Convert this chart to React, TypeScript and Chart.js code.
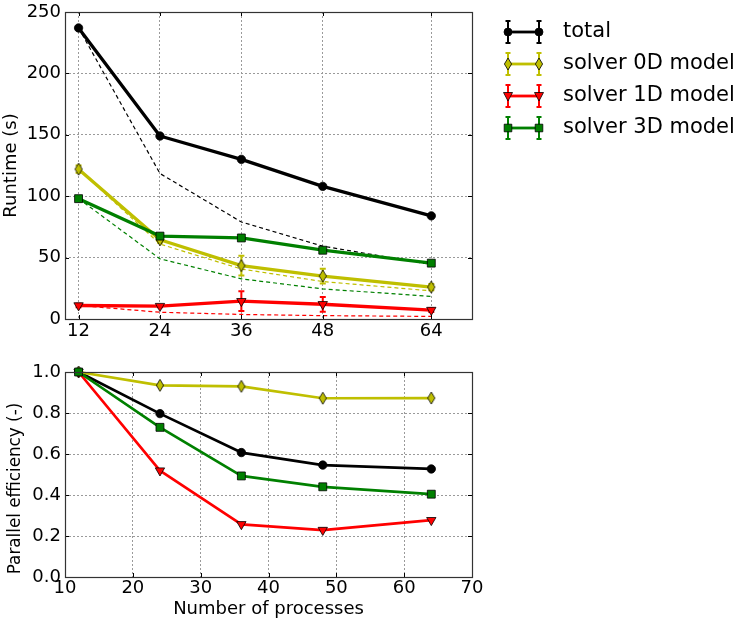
import React, { useEffect, useRef } from 'react';
import { Chart, registerables } from 'chart.js';

Chart.register(...registerables);

const FONT = "'DejaVu Sans', 'Bitstream Vera Sans', sans-serif";

// ---------- data ----------
const processes = [12, 24, 36, 48, 64];
const runtimeXTicks = [12, 24, 36, 48, 64];

const totalRuntime = [237, 149, 130, 108, 84];
const totalIdeal = [237, 118.5, 79, 59.3, 44.4];
const totalErr = [1.2, 1, 1, 1, 1];

const solver0D = [122, 64.5, 43.5, 35, 26];
const solver0DIdeal = [122, 61, 40.7, 30.5, 22.9];
const solver0DErr = [3, 2.5, 8, 6, 2.5];

const solver1D = [11, 10.5, 14.5, 12, 7.3];
const solver1DIdeal = [11, 5.5, 3.7, 2.75, 2.1];
const solver1DErr = [1.5, 1, 8, 6, 1.5];

const solver3D = [98, 67.5, 66, 56, 45.5];
const solver3DIdeal = [98, 49, 32.7, 24.5, 18.4];
const solver3DErr = [1.5, 1.5, 1.5, 1.5, 1.5];

const effTotal = [1.0, 0.797, 0.607, 0.546, 0.527];
const eff0D = [1.0, 0.935, 0.93, 0.872, 0.873];
const eff1D = [1.0, 0.519, 0.257, 0.229, 0.277];
const eff3D = [1.0, 0.73, 0.493, 0.44, 0.404];

const legendLabels = ['total', 'solver 0D model', 'solver 1D model', 'solver 3D model'];
const seriesColors = ['#000000', '#bfbf00', '#ff0000', '#008000'];
const seriesMarkers = ['circle', 'diamond', 'tridown', 'square'];
const effTitle = 'Parallel efficiency (-)';

// ---------- helpers ----------
const pts = (vals: number[]) => processes.map((x, i) => ({ x, y: vals[i] }));

function makeDiamond(color: string): HTMLCanvasElement {
  const c = document.createElement('canvas');
  c.width = 10;
  c.height = 14;
  const g = c.getContext('2d')!;
  g.beginPath();
  g.moveTo(5, 1);
  g.lineTo(8.6, 7);
  g.lineTo(5, 13);
  g.lineTo(1.4, 7);
  g.closePath();
  g.fillStyle = color;
  g.fill();
  g.lineWidth = 0.8;
  g.strokeStyle = '#000';
  g.stroke();
  return c;
}

function drawMarker(ctx: CanvasRenderingContext2D, kind: string, x: number, y: number, color: string) {
  ctx.save();
  ctx.fillStyle = color;
  ctx.strokeStyle = '#000';
  ctx.lineWidth = 0.8;
  ctx.setLineDash([]);
  ctx.beginPath();
  if (kind === 'circle') {
    ctx.arc(x, y, 4, 0, Math.PI * 2);
  } else if (kind === 'diamond') {
    ctx.moveTo(x, y - 6);
    ctx.lineTo(x + 3.6, y);
    ctx.lineTo(x, y + 6);
    ctx.lineTo(x - 3.6, y);
    ctx.closePath();
  } else if (kind === 'tridown') {
    ctx.moveTo(x - 4.5, y - 3.5);
    ctx.lineTo(x + 4.5, y - 3.5);
    ctx.lineTo(x, y + 5);
    ctx.closePath();
  } else {
    ctx.rect(x - 3.8, y - 3.8, 7.6, 7.6);
  }
  ctx.fill();
  ctx.stroke();
  ctx.restore();
}

const framePlugin = {
  id: 'frameTicks',
  afterDraw(chart: any) {
    const { ctx, chartArea: a, scales } = chart;
    ctx.save();
    ctx.strokeStyle = '#000';
    ctx.lineWidth = 1;
    ctx.setLineDash([]);
    const tl = 4;
    scales.x.ticks.forEach((t: any) => {
      const px = Math.round(scales.x.getPixelForValue(t.value)) + 0.5;
      ctx.beginPath();
      ctx.moveTo(px, a.bottom);
      ctx.lineTo(px, a.bottom - tl);
      ctx.moveTo(px, a.top);
      ctx.lineTo(px, a.top + tl);
      ctx.stroke();
    });
    scales.y.ticks.forEach((t: any) => {
      const py = Math.round(scales.y.getPixelForValue(t.value)) + 0.5;
      ctx.beginPath();
      ctx.moveTo(a.left, py);
      ctx.lineTo(a.left + tl, py);
      ctx.moveTo(a.right, py);
      ctx.lineTo(a.right - tl, py);
      ctx.stroke();
    });
    ctx.strokeStyle = '#333';
    ctx.lineWidth = 1.2;
    ctx.strokeRect(Math.round(a.left) + 0.5, Math.round(a.top) + 0.5, Math.round(a.right - a.left), Math.round(a.bottom - a.top));
    ctx.restore();
  },
};

const effTitlePlugin = {
  id: 'effTitle',
  afterDraw(chart: any) {
    const { ctx, chartArea: a } = chart;
    ctx.save();
    ctx.translate(16, (a.top + a.bottom) / 2 + 14);
    ctx.rotate(-Math.PI / 2);
    ctx.font = `16.8px ${FONT}`;
    ctx.fillStyle = '#000';
    ctx.textAlign = 'center';
    ctx.textBaseline = 'middle';
    ctx.fillText(effTitle, 0, 0);
    ctx.restore();
  },
};

const errorBarPlugin = {
  id: 'errorBars',
  beforeDatasetDraw(chart: any, args: any) {
    const ds = chart.data.datasets[args.index];
    if (!ds.errors) return;
    const { ctx } = chart;
    const ys = chart.scales.y;
    ctx.save();
    ctx.strokeStyle = ds.borderColor;
    ctx.lineWidth = 2;
    ctx.setLineDash([]);
    args.meta.data.forEach((el: any, i: number) => {
      const v = ds.data[i].y;
      const e = ds.errors[i];
      const y1 = ys.getPixelForValue(v + e);
      const y2 = ys.getPixelForValue(v - e);
      ctx.beginPath();
      ctx.moveTo(el.x, y1);
      ctx.lineTo(el.x, y2);
      ctx.moveTo(el.x - 3, y1);
      ctx.lineTo(el.x + 3, y1);
      ctx.moveTo(el.x - 3, y2);
      ctx.lineTo(el.x + 3, y2);
      ctx.stroke();
    });
    ctx.restore();
  },
};

const legendPlugin = {
  id: 'customLegend',
  afterDraw(chart: any) {
    const { ctx, chartArea: a } = chart;
    ctx.save();
    legendLabels.forEach((label, i) => {
      const y = a.top + 20 + i * 32;
      const x0 = a.right + 36;
      const x1 = a.right + 67;
      const col = seriesColors[i];
      ctx.strokeStyle = col;
      ctx.setLineDash([]);
      ctx.lineWidth = 2.8;
      ctx.beginPath();
      ctx.moveTo(x0, y);
      ctx.lineTo(x1, y);
      ctx.stroke();
      ctx.lineWidth = 2;
      [x0, x1].forEach((x) => {
        ctx.beginPath();
        ctx.moveTo(x, y - 11);
        ctx.lineTo(x, y + 11);
        ctx.moveTo(x - 2.5, y - 11);
        ctx.lineTo(x + 2.5, y - 11);
        ctx.moveTo(x - 2.5, y + 11);
        ctx.lineTo(x + 2.5, y + 11);
        ctx.stroke();
        drawMarker(ctx, seriesMarkers[i], x, y, col);
      });
      ctx.fillStyle = '#000';
      ctx.font = `21px ${FONT}`;
      ctx.textAlign = 'left';
      ctx.textBaseline = 'middle';
      ctx.fillText(label, a.right + 91, y);
    });
    ctx.restore();
  },
};

function lineDs(vals: number[], color: string, marker: string, width: number, errors?: number[]) {
  const ds: any = {
    data: pts(vals),
    borderColor: color,
    backgroundColor: color,
    borderWidth: width,
    borderJoinStyle: 'round',
    pointBackgroundColor: color,
    pointBorderColor: '#000',
    pointBorderWidth: 0.8,
    clip: false,
  };
  if (marker === 'circle') {
    ds.pointStyle = 'circle';
    ds.pointRadius = 4.2;
  } else if (marker === 'diamond') {
    ds.pointStyle = makeDiamond(color);
    ds.pointRadius = 6;
  } else if (marker === 'tridown') {
    ds.pointStyle = 'triangle';
    ds.pointRotation = 180;
    ds.pointRadius = 5.4;
  } else {
    ds.pointStyle = 'rect';
    ds.pointRadius = 5.6;
  }
  if (errors) ds.errors = errors;
  return ds;
}

function dashDs(vals: number[], color: string) {
  return {
    data: pts(vals),
    borderColor: color,
    borderWidth: 1.2,
    borderDash: [4, 3],
    pointRadius: 0,
    clip: false,
  };
}

const tickFont = { family: FONT, size: 18, lineHeight: 1 };
const titleFont = { family: FONT, size: 18, lineHeight: 1.2 };
const gridOpts = { color: '#9a9a9a', lineWidth: 1, drawTicks: false };
const borderOpts = { display: false, dash: [2, 2] };

function topConfig(): any {
  return {
    type: 'line',
    data: {
      datasets: [
        lineDs(solver3D, seriesColors[3], 'square', 3.3, solver3DErr),
        lineDs(solver1D, seriesColors[2], 'tridown', 3.3, solver1DErr),
        lineDs(solver0D, seriesColors[1], 'diamond', 3.3, solver0DErr),
        lineDs(totalRuntime, seriesColors[0], 'circle', 3.3, totalErr),
        dashDs(totalIdeal, seriesColors[0]),
        dashDs(solver0DIdeal, seriesColors[1]),
        dashDs(solver1DIdeal, seriesColors[2]),
        dashDs(solver3DIdeal, seriesColors[3]),
      ],
    },
    options: {
      responsive: false,
      animation: false,
      events: [],
      layout: { padding: { left: 0, top: 12, right: 271, bottom: 0 } },
      plugins: { legend: { display: false }, tooltip: { enabled: false } },
      scales: {
        x: {
          type: 'linear',
          min: 10,
          max: 70,
          afterBuildTicks: (s: any) => {
            s.ticks = runtimeXTicks.map((v) => ({ value: v }));
          },
          afterFit: (s: any) => {
            s.height = 26;
            s.paddingLeft = 0;
            s.paddingRight = 0;
          },
          ticks: { autoSkip: false, maxRotation: 0, padding: 3, font: tickFont, color: '#000' },
          grid: gridOpts,
          border: borderOpts,
        },
        y: {
          type: 'linear',
          min: 0,
          max: 250,
          afterFit: (s: any) => {
            s.width = 65;
            s.paddingTop = 0;
            s.paddingBottom = 0;
          },
          ticks: { stepSize: 50, padding: 4, font: tickFont, color: '#000' },
          grid: gridOpts,
          border: borderOpts,
          title: { display: true, text: 'Runtime (s)', font: titleFont, color: '#000', padding: { top: 1, bottom: 0 } },
        },
      },
    },
    plugins: [errorBarPlugin, framePlugin, legendPlugin],
  };
}

function bottomConfig(): any {
  return {
    type: 'line',
    data: {
      datasets: [
        lineDs(eff3D, seriesColors[3], 'square', 2.7),
        lineDs(eff1D, seriesColors[2], 'tridown', 2.7),
        lineDs(eff0D, seriesColors[1], 'diamond', 2.7),
        lineDs(effTotal, seriesColors[0], 'circle', 2.7),
      ],
    },
    options: {
      responsive: false,
      animation: false,
      events: [],
      layout: { padding: { left: 0, top: 27, right: 271, bottom: 0 } },
      plugins: { legend: { display: false }, tooltip: { enabled: false } },
      scales: {
        x: {
          type: 'linear',
          min: 10,
          max: 70,
          afterFit: (s: any) => {
            s.height = 48;
            s.paddingLeft = 0;
            s.paddingRight = 0;
          },
          ticks: { stepSize: 10, autoSkip: false, maxRotation: 0, padding: 2, font: tickFont, color: '#000' },
          grid: gridOpts,
          border: borderOpts,
          title: { display: true, text: 'Number of processes', font: titleFont, color: '#000', padding: { top: 0, bottom: 5 } },
        },
        y: {
          type: 'linear',
          min: 0,
          max: 1,
          afterFit: (s: any) => {
            s.width = 65;
            s.paddingTop = 0;
            s.paddingBottom = 0;
          },
          ticks: {
            stepSize: 0.2,
            padding: 4,
            font: tickFont,
            color: '#000',
            callback: (v: any) => Number(v).toFixed(1),
          },
          grid: gridOpts,
          border: borderOpts,
        },
      },
    },
    plugins: [framePlugin, effTitlePlugin],
  };
}

export default function App() {
  const topRef = useRef<HTMLCanvasElement>(null);
  const botRef = useRef<HTMLCanvasElement>(null);
  useEffect(() => {
    const c1 = new Chart(topRef.current!, topConfig());
    const c2 = new Chart(botRef.current!, bottomConfig());
    return () => {
      c1.destroy();
      c2.destroy();
    };
  }, []);
  return (
    <div style={{ position: 'fixed', left: 0, top: 0, width: 743, height: 625, background: '#fff', overflow: 'hidden' }}>
      <canvas ref={topRef} width={743} height={345} style={{ position: 'absolute', left: 0, top: 0, width: 743, height: 345 }} />
      <canvas ref={botRef} width={743} height={280} style={{ position: 'absolute', left: 0, top: 345, width: 743, height: 280 }} />
    </div>
  );
}
